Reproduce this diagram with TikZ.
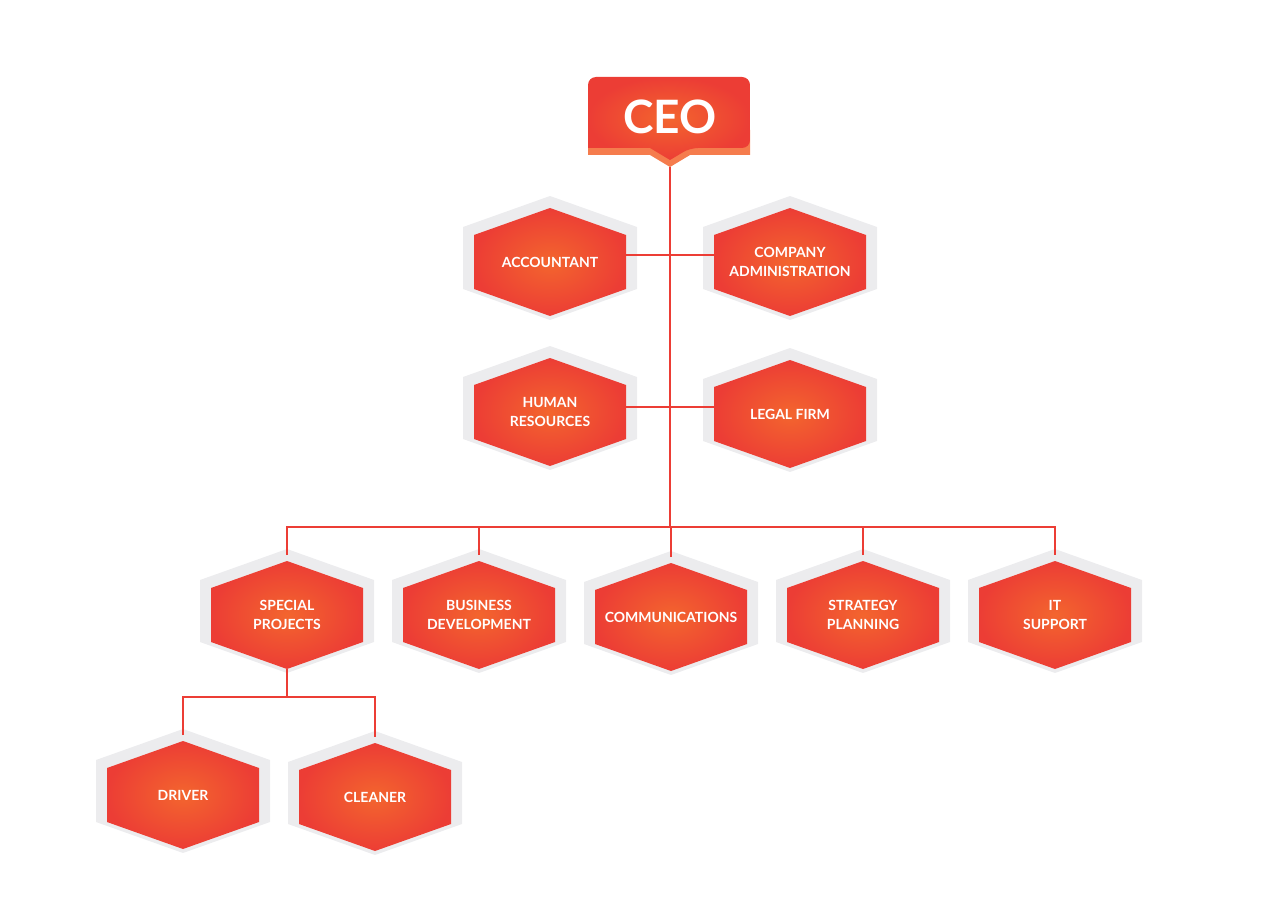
\documentclass[tikz,border=0pt]{standalone}
\usepackage{fontspec}
\setmainfont{Lato}
\usetikzlibrary{shadings}
\definecolor{hred}{HTML}{EC3D35}
\definecolor{horange}{HTML}{F3652E}
\definecolor{halo}{HTML}{ECECEE}
\tikzset{
  conn/.style={draw=hred, line width=1.3pt},
  lbl/.style={text=white, font=\bfseries\fontsize{14}{19}\selectfont, align=center},
}
\newcommand{\hexnode}[4]{%
  \fill[halo] (#2-87,-#3+4+31) -- (#2,-#3+4+62) -- (#2+87,-#3+4+31) -- (#2+87,-#3+4-31) -- (#2,-#3+4-62) -- (#2-87,-#3+4-31) -- cycle;
  \shade[inner color=horange, outer color=hred] (#2-76,-#3+27) -- (#2,-#3+54) -- (#2+76,-#3+27) -- (#2+76,-#3-27) -- (#2,-#3-54) -- (#2-76,-#3-27) -- cycle;
  \node[lbl] (#1) at (#2,-#3) {#4};
  \coordinate (#1t) at (#2,-#3+60);
  \coordinate (#1b) at (#2,-#3-54);
  \coordinate (#1l) at (#2-76,-#3);
  \coordinate (#1r) at (#2+76,-#3);
}
\begin{document}
\begin{tikzpicture}[x=1pt,y=1pt]
\useasboundingbox (0,0) rectangle (1280,-912);
% CEO
\fill[horange!85!white] (588,-130) -- (588,-155) -- (650,-155) -- (670,-167) -- (690,-155) -- (750,-155) -- (750,-130) -- cycle;
\shade[inner color=horange, outer color=hred, rounded corners=8pt] (588,-148) -- (588,-77) -- (750,-77) -- (750,-148) -- (690,-148) [sharp corners] -- (670,-160) -- (650,-148) -- cycle;
\node[text=white, font=\fontsize{46}{50}\selectfont\bfseries] (ceo) at (670,-117) {CEO};
\coordinate (ceob) at (670,-167);
\hexnode{acc}{550}{262}{ACCOUNTANT}
\hexnode{adm}{790}{262}{COMPANY\\ADMINISTRATION}
\hexnode{hr}{550}{412}{HUMAN\\RESOURCES}
\hexnode{legal}{790}{414}{LEGAL FIRM}
\hexnode{sp}{287}{615}{SPECIAL\\PROJECTS}
\hexnode{bd}{479}{615}{BUSINESS\\DEVELOPMENT}
\hexnode{com}{671}{617}{COMMUNICATIONS}
\hexnode{st}{863}{615}{STRATEGY\\PLANNING}
\hexnode{it}{1055}{615}{IT\\SUPPORT}
\hexnode{drv}{183}{795}{DRIVER}
\hexnode{cln}{375}{797}{CLEANER}
% connectors
\coordinate (bus) at (670,-527);
\draw[conn] (ceob) -- (bus);
\draw[conn] ([yshift=7pt]acc.east -| accr) -- ([yshift=7pt]acc.east -| adml);
\draw[conn] ([yshift=5pt]hr.east -| hrr) -- ([yshift=5pt]hr.east -| legall);
\draw[conn] (spt) |- (bus) -| (itt);
\draw[conn] (bdt) -- (bdt |- bus);
\draw[conn] (comt) -- (comt |- bus);
\draw[conn] (stt) -- (stt |- bus);
\coordinate (bus2) at (287,-697);
\draw[conn] (spb) -- (bus2);
\draw[conn] (drvt) |- (bus2) -| (clnt);
\end{tikzpicture}
\end{document}
